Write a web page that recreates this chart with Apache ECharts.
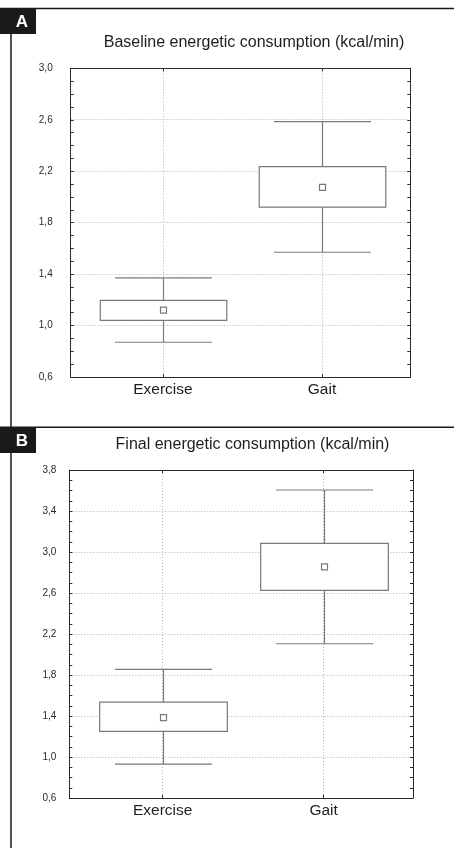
<!DOCTYPE html>
<html>
<head>
<meta charset="utf-8">
<script src="https://cdn.jsdelivr.net/npm/echarts@6/dist/echarts.min.js"></script>
<style>
html,body{margin:0;padding:0;background:#fff;}
#chart{width:454px;height:848px;}
</style>
</head>
<body>
<div id="chart"></div>
<script>
// ---- data ----
const categories = ['Exercise', 'Gait'];
const positions = [1, 2];

const baselineTitle = 'Baseline energetic consumption (kcal/min)';
const baselineLow  = [0.87, 1.57];
const baselineQ1   = [1.04, 1.92];
const baselineMean = [1.12, 2.075];
const baselineQ3   = [1.195, 2.235];
const baselineHigh = [1.37, 2.585];

const finalTitle = 'Final energetic consumption (kcal/min)';
const finalLow  = [0.93, 2.105];
const finalQ1   = [1.25, 2.625];
const finalMean = [1.385, 2.855];
const finalQ3   = [1.535, 3.085];
const finalHigh = [1.855, 3.605];

const baselineAxis = { min: 0.6, max: 3.0, interval: 0.4 };
const finalAxis = { min: 0.6, max: 3.8, interval: 0.4 };

// ---- build ----
const FONT = '"Liberation Sans", Arial, Helvetica, sans-serif';
const AXIS_COLOR = '#2a2a2a';
const BOX_COLOR = '#7a7a7a';
const GRID_COLOR = '#b0b0b0';

function rows(low, q1, mean, q3, high) {
  return positions.map((p, i) => [p, low[i], q1[i], mean[i], q3[i], high[i]]);
}

function makeRender(boxW, capW) {
  return function (params, api) {
    const x = api.value(0);
    const pLow = api.coord([x, api.value(1)]);
    const pQ1 = api.coord([x, api.value(2)]);
    const pMean = api.coord([x, api.value(3)]);
    const pQ3 = api.coord([x, api.value(4)]);
    const pHigh = api.coord([x, api.value(5)]);
    const cx = Math.round(pMean[0]) + 0.5;
    const st = { stroke: BOX_COLOR, lineWidth: 1.2, fill: null };
    return {
      type: 'group',
      children: [
        { type: 'line', shape: { x1: cx, y1: pLow[1], x2: cx, y2: pHigh[1] }, style: st },
        { type: 'line', shape: { x1: cx - capW / 2, y1: pLow[1], x2: cx + capW / 2, y2: pLow[1] }, style: st },
        { type: 'line', shape: { x1: cx - capW / 2, y1: pHigh[1], x2: cx + capW / 2, y2: pHigh[1] }, style: st },
        { type: 'rect', shape: { x: cx - boxW / 2, y: pQ3[1], width: boxW, height: pQ1[1] - pQ3[1] },
          style: { fill: '#fff', stroke: BOX_COLOR, lineWidth: 1.2 } },
        { type: 'rect', shape: { x: cx - 3, y: pMean[1] - 3, width: 6, height: 6 },
          style: { fill: '#fff', stroke: BOX_COLOR, lineWidth: 1.2 } }
      ]
    };
  };
}

const xMin = 0.42, xMax = 2.555;

function xAxes(gridIndex) {
  return [
    {
      type: 'value', gridIndex, position: 'bottom', min: xMin, max: xMax,
      axisLine: { show: true, onZero: false, lineStyle: { color: AXIS_COLOR, width: 1 } },
      axisTick: { show: true, inside: true, length: 3, customValues: positions, lineStyle: { color: AXIS_COLOR } },
      axisLabel: { show: true, customValues: positions, margin: 5, fontSize: 15.5, color: '#1e1e1e', fontFamily: FONT,
        formatter: v => categories[positions.indexOf(Math.round(v))] || '' },
      splitLine: { show: true, lineStyle: { color: GRID_COLOR, type: [1, 2], width: 1 } }
    },
    {
      type: 'value', gridIndex, position: 'top', min: xMin, max: xMax,
      axisLine: { show: true, onZero: false, lineStyle: { color: AXIS_COLOR, width: 1 } },
      axisTick: { show: true, inside: true, length: 3, customValues: positions, lineStyle: { color: AXIS_COLOR } },
      axisLabel: { show: false },
      splitLine: { show: false }
    }
  ];
}

function yAxes(gridIndex, ax, labelMargin, lift) {
  const common = {
    type: 'value', gridIndex, min: ax.min, max: ax.max, interval: ax.interval,
    axisLine: { show: true, onZero: false, lineStyle: { color: AXIS_COLOR, width: 1 } },
    axisTick: { show: true, inside: true, length: 3, lineStyle: { color: AXIS_COLOR } },
    minorTick: { show: true, splitNumber: 4, length: 3, lineStyle: { color: AXIS_COLOR } }
  };
  return [
    Object.assign({}, common, {
      position: 'left',
      axisLabel: { show: true, margin: labelMargin, fontSize: 10, color: '#2a2a2a', fontFamily: FONT,
        verticalAlign: 'middle', padding: [0, 0, lift, 0],
        formatter: v => v.toFixed(1).replace('.', ',') },
      splitLine: { show: true, lineStyle: { color: GRID_COLOR, type: [1, 2], width: 1 } }
    }),
    Object.assign({}, common, {
      position: 'right',
      axisLabel: { show: false },
      splitLine: { show: false }
    })
  ];
}

const chart = echarts.init(document.getElementById('chart'), null, { renderer: 'canvas' });

const option = {
  backgroundColor: '#fff',
  animation: false,
  grid: [
    { left: 70.7, top: 68.3, width: 339.6, height: 308.7, outerBoundsMode: 'none' },
    { left: 69.3, top: 470, width: 343.7, height: 328, outerBoundsMode: 'none' }
  ],
  xAxis: xAxes(0).concat(xAxes(1)),
  yAxis: yAxes(0, baselineAxis, 18, 8).concat(yAxes(1, finalAxis, 13, 3)),
  series: [
    {
      type: 'custom', xAxisIndex: 0, yAxisIndex: 0,
      renderItem: makeRender(126.5, 97),
      encode: { x: 0, y: [1, 2, 3, 4, 5] },
      data: rows(baselineLow, baselineQ1, baselineMean, baselineQ3, baselineHigh),
      z: 5
    },
    {
      type: 'custom', xAxisIndex: 2, yAxisIndex: 2,
      renderItem: makeRender(127.7, 97),
      encode: { x: 0, y: [1, 2, 3, 4, 5] },
      data: rows(finalLow, finalQ1, finalMean, finalQ3, finalHigh),
      z: 5
    }
  ],
  graphic: [
    // outer frame
    { type: 'line', shape: { x1: 0, y1: 8.5, x2: 454, y2: 8.5 }, style: { stroke: '#1a1a1a', lineWidth: 1.5 } },
    { type: 'line', shape: { x1: 11, y1: 8, x2: 11, y2: 848 }, style: { stroke: '#1a1a1a', lineWidth: 1.5 } },
    { type: 'line', shape: { x1: 0, y1: 427.3, x2: 454, y2: 427.3 }, style: { stroke: '#1a1a1a', lineWidth: 1.5 } },
    // panel tags
    { type: 'rect', shape: { x: 0, y: 8, width: 36, height: 26 }, style: { fill: '#1a1a1a' } },
    { type: 'text', style: { text: 'A', x: 22, y: 22, align: 'center', verticalAlign: 'middle',
        font: 'bold 17px ' + FONT, fill: '#fff' } },
    { type: 'rect', shape: { x: 0, y: 427, width: 36, height: 26 }, style: { fill: '#1a1a1a' } },
    { type: 'text', style: { text: 'B', x: 22, y: 441, align: 'center', verticalAlign: 'middle',
        font: 'bold 17px ' + FONT, fill: '#fff' } },
    // titles
    { type: 'text', style: { text: baselineTitle, x: 254, y: 43, align: 'center', verticalAlign: 'middle',
        font: '16px ' + FONT, fill: '#1e1e1e' } },
    { type: 'text', style: { text: finalTitle, x: 252.5, y: 445, align: 'center', verticalAlign: 'middle',
        font: '16px ' + FONT, fill: '#1e1e1e' } }
  ]
};

chart.setOption(option);
</script>
</body>
</html>
